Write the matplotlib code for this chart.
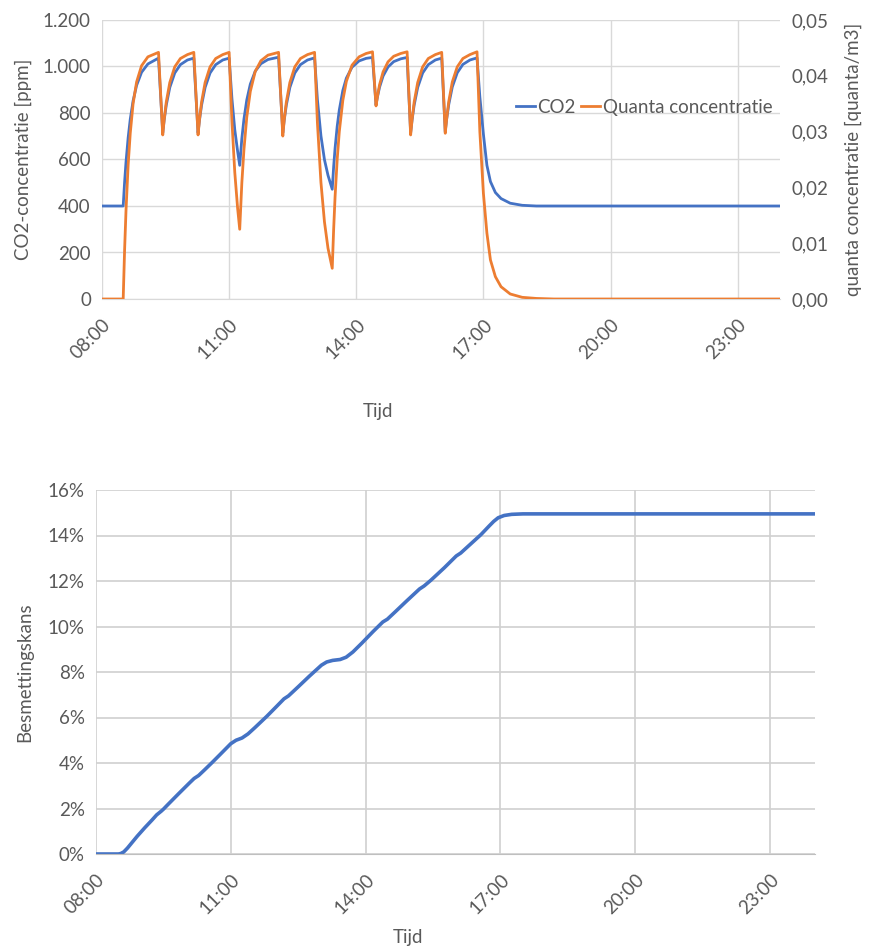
import numpy as np
import matplotlib
matplotlib.use("Agg")
from matplotlib import pyplot as plt
from matplotlib.ticker import FuncFormatter, MultipleLocator

plt.rcParams['font.family'] = ['Lato', 'DejaVu Sans']

t_min = [0, 30, 32, 34, 37, 40, 44, 49, 56, 65, 80,
         86, 88, 91, 96, 103, 111, 121, 130,
         136, 138, 141, 146, 153, 161, 171, 180,
         184, 188, 192, 195,
         198, 201, 205, 210, 217, 225, 235, 250,
         256, 258, 261, 266, 273, 281, 291, 301,
         305, 310, 315, 320, 326,
         328, 330, 333, 336, 341, 346, 354, 364, 374, 383,
         388, 390, 393, 398, 405, 413, 423, 432,
         437, 439, 442, 447, 454, 462, 472, 481,
         486, 488, 491, 496, 503, 511, 521, 531,
         535, 540, 545, 550, 557, 565, 578, 595, 615, 640, 960]
co2_ppm = [400, 400, 503, 589, 693, 773, 852, 919, 975, 1011, 1036,
           715, 769, 834, 910, 972, 1008, 1028, 1036,
           715, 769, 834, 910, 972, 1008, 1028, 1036,
           861, 728, 636, 575,
           690, 774, 856, 924, 980, 1012, 1030, 1040,
           715, 769, 834, 910, 972, 1008, 1028, 1037,
           858, 702, 599, 532, 472,
           569, 648, 742, 813, 897, 950, 997, 1024, 1035, 1039,
           835, 869, 911, 959, 998, 1021, 1033, 1039,
           715, 769, 834, 910, 972, 1008, 1028, 1036,
           720, 773, 837, 912, 973, 1009, 1028, 1037,
           870, 710, 575, 505, 458, 432, 412, 403, 400, 400, 400]
quanta = [0, 0, 0.0088, 0.0159, 0.0240, 0.0297, 0.0350, 0.0389, 0.0418, 0.0434, 0.0442,
          0.0294, 0.0321, 0.0353, 0.0388, 0.0416, 0.0431, 0.0438, 0.0442,
          0.0294, 0.0321, 0.0353, 0.0388, 0.0416, 0.0431, 0.0438, 0.0442,
          0.0318, 0.0227, 0.0163, 0.0125,
          0.0208, 0.0268, 0.0326, 0.0372, 0.0408, 0.0427, 0.0437, 0.0442,
          0.0292, 0.0321, 0.0353, 0.0388, 0.0416, 0.0431, 0.0438, 0.0442,
          0.0316, 0.0209, 0.0138, 0.0091, 0.0055,
          0.0125, 0.0183, 0.0250, 0.0300, 0.0356, 0.0390, 0.0419, 0.0434, 0.0440, 0.0443,
          0.0346, 0.0363, 0.0384, 0.0407, 0.0425, 0.0435, 0.0440, 0.0443,
          0.0294, 0.0321, 0.0353, 0.0388, 0.0416, 0.0431, 0.0438, 0.0442,
          0.0297, 0.0323, 0.0354, 0.0389, 0.0416, 0.0431, 0.0438, 0.0443,
          0.0300, 0.0190, 0.0118, 0.0070, 0.0040, 0.0022, 0.0009, 0.0003, 0.0001, 0, 0]

# besmettingskans [%]
t_risk = [0, 30, 33, 37, 42, 48, 55, 65, 75, 81, 87, 90, 95, 110, 125, 131, 137,
          145, 155, 165, 180, 187, 195, 203, 212, 228, 240, 251, 257, 270, 285,
          301, 308, 316, 326, 334, 343, 355, 370, 383, 389, 400, 415, 432, 438,
          447, 465, 481, 487, 500, 514, 525, 531, 537, 545, 555, 570, 960]
risk_pct = [0, 0, 0.02, 0.09, 0.26, 0.50, 0.78, 1.15, 1.50, 1.72, 1.88, 1.97, 2.14,
            2.64, 3.13, 3.32, 3.45, 3.70, 4.02, 4.35, 4.85, 5.00, 5.10, 5.28, 5.55,
            6.05, 6.45, 6.82, 6.95, 7.35, 7.82, 8.30, 8.44, 8.51, 8.55, 8.65, 8.88,
            9.27, 9.78, 10.20, 10.32, 10.66, 11.13, 11.65, 11.78, 12.03, 12.58,
            13.10, 13.23, 13.62, 14.04, 14.42, 14.62, 14.78, 14.88, 14.93, 14.95, 14.95]

x_ticks = [8, 11, 14, 17, 20, 23]

BLUE = "#4472C4"
ORANGE = "#ED7D31"
GRID = "#D9D9D9"
TXT = "#595959"
FS = 13.5

W, H = 873, 952
fig = plt.figure(figsize=(W / 100, H / 100), dpi=100)


def px_axes(left, top, right, bottom):
    return fig.add_axes([left / W, 1 - bottom / H, (right - left) / W, (bottom - top) / H])


def time_fmt(v, pos):
    return f"{int(round(v)) % 24:02d}:00"


def style_x(ax):
    ax.set_xlim(8, 24)
    ax.set_xticks(x_ticks)
    ax.xaxis.set_major_formatter(FuncFormatter(time_fmt))
    for lab in ax.get_xticklabels():
        lab.set_rotation(45)
        lab.set_ha('right')
        lab.set_rotation_mode('anchor')
    ax.tick_params(axis='both', length=0, colors=TXT, labelsize=FS)
    ax.tick_params(axis='x', pad=12)
    ax.tick_params(axis='y', pad=8)
    ax.grid(True, color=GRID, lw=1.0)
    ax.set_axisbelow(True)
    for s in ['top', 'left', 'right']:
        ax.spines[s].set_visible(False)
    ax.spines['bottom'].set_color(GRID)


def place_ylabel(axis, x):
    axis.set_label_coords(x, 0.5)
    axis.label.set_verticalalignment('center')


hours = np.array(t_min) / 60 + 8
hours_r = np.array(t_risk) / 60 + 8

# bovenste grafiek
ax1 = px_axes(102, 20, 780, 299)
l1, = ax1.plot(hours, co2_ppm, color=BLUE, lw=2.0, label="CO2")
ax1.set_ylim(0, 1200)
ax1.yaxis.set_major_locator(MultipleLocator(200))
ax1.yaxis.set_major_formatter(FuncFormatter(lambda v, p: f"{int(v):,}".replace(",", ".")))
style_x(ax1)
ax1.set_ylabel("CO2-concentratie [ppm]", color=TXT, fontsize=FS)
place_ylabel(ax1.yaxis, (23 - 102) / 678)

ax2 = ax1.twinx()
l2, = ax2.plot(hours, quanta, color=ORANGE, lw=2.0, label="Quanta concentratie")
ax2.set_ylim(0, 0.05)
ax2.yaxis.set_major_locator(MultipleLocator(0.01))
ax2.yaxis.set_major_formatter(FuncFormatter(lambda v, p: f"{v:.2f}".replace(".", ",")))
ax2.tick_params(axis='y', length=0, colors=TXT, labelsize=FS, pad=8)
for s in ax2.spines.values():
    s.set_visible(False)
ax2.set_ylabel("quanta concentratie [quanta/m3]", color=TXT, fontsize=FS)
place_ylabel(ax2.yaxis, (853 - 102) / 678)
ax2.legend(handles=[l1, l2], loc='center right', bbox_to_anchor=(1.0, 0.688), ncol=2,
           frameon=False, fontsize=FS, handlelength=1.0, handletextpad=0.15,
           columnspacing=0.3, borderaxespad=0, labelcolor=TXT)
fig.text(378 / W, 1 - 412 / H, "Tijd", ha='center', va='center', color=TXT, fontsize=FS)

# onderste grafiek
ax3 = px_axes(96, 490, 815, 854)
ax3.plot(hours_r, risk_pct, color=BLUE, lw=2.6)
ax3.set_ylim(0, 16)
ax3.yaxis.set_major_locator(MultipleLocator(2))
ax3.yaxis.set_major_formatter(FuncFormatter(lambda v, p: f"{v:.0f}%"))
style_x(ax3)
ax3.grid(True, color="#D0D0D0", lw=1.2)
ax3.spines['bottom'].set_color("#BFBFBF")
ax3.set_ylabel("Besmettingskans", color=TXT, fontsize=FS)
place_ylabel(ax3.yaxis, (25 - 96) / 719)
fig.text(408 / W, 1 - 937 / H, "Tijd", ha='center', va='center', color=TXT, fontsize=FS)

fig.savefig("out.png", dpi=100)
